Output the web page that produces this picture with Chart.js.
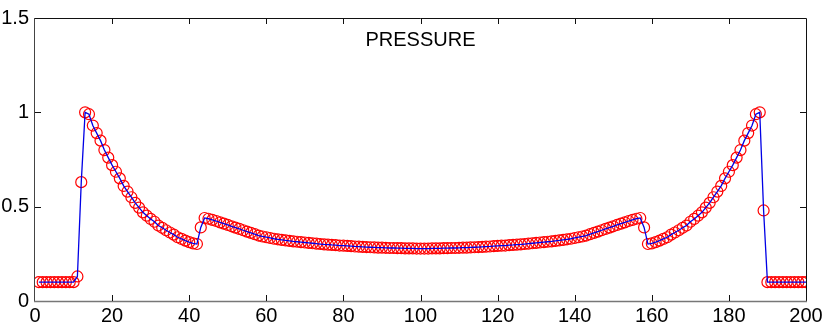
<!DOCTYPE html>
<html>
<head>
<meta charset="utf-8">
<script src="https://cdn.jsdelivr.net/npm/chart.js@4"></script>
<style>
  body { margin: 0; background: #fff; }
  #wrap { width: 830px; height: 328px; }
</style>
</head>
<body>
<div id="wrap"><canvas id="chart"></canvas></div>
<script>
// pressure at grid points 1..200
var pressure = [
  0.1, 0.1, 0.1, 0.1, 0.1, 0.1, 0.1, 0.1, 0.1, 0.1,
  0.13, 0.63, 1.0, 0.99, 0.93, 0.89, 0.85, 0.80, 0.76, 0.72,
  0.685, 0.65, 0.61, 0.58, 0.55, 0.52, 0.495, 0.47, 0.452, 0.435,
  0.42, 0.40, 0.388, 0.375, 0.363, 0.352, 0.338, 0.329, 0.32, 0.312,
  0.305, 0.302, 0.39, 0.44, 0.436, 0.430, 0.424, 0.417, 0.410, 0.403,
  0.396, 0.389, 0.382, 0.375, 0.368, 0.361, 0.354, 0.347, 0.342, 0.338,
  0.334, 0.330, 0.327, 0.324, 0.321, 0.319, 0.316, 0.314, 0.312, 0.310,
  0.308, 0.306, 0.304, 0.302, 0.300, 0.299, 0.297, 0.296, 0.294, 0.293,
  0.292, 0.291, 0.289, 0.288, 0.287, 0.286, 0.285, 0.284, 0.283, 0.283,
  0.282, 0.281, 0.281, 0.280, 0.280, 0.279, 0.279, 0.279, 0.278, 0.278,
  0.278, 0.278, 0.279, 0.279, 0.279, 0.280, 0.280, 0.281, 0.281, 0.282,
  0.283, 0.283, 0.284, 0.285, 0.286, 0.287, 0.288, 0.289, 0.291, 0.292,
  0.293, 0.294, 0.296, 0.297, 0.299, 0.300, 0.302, 0.304, 0.306, 0.308,
  0.310, 0.312, 0.314, 0.316, 0.319, 0.321, 0.324, 0.327, 0.330, 0.334,
  0.338, 0.342, 0.347, 0.354, 0.361, 0.368, 0.375, 0.382, 0.389, 0.396,
  0.403, 0.410, 0.417, 0.424, 0.430, 0.436, 0.44, 0.39, 0.302, 0.305,
  0.312, 0.32, 0.329, 0.338, 0.352, 0.363, 0.375, 0.388, 0.40, 0.42,
  0.435, 0.452, 0.47, 0.495, 0.52, 0.55, 0.58, 0.61, 0.65, 0.685,
  0.72, 0.76, 0.80, 0.85, 0.89, 0.93, 0.99, 1.0, 0.48, 0.1,
  0.1, 0.1, 0.1, 0.1, 0.1, 0.1, 0.1, 0.1, 0.1, 0.1
];

var xTicks = [0, 20, 40, 60, 80, 100, 120, 140, 160, 180, 200];
var yTicks = [0, 0.5, 1, 1.5];
var yTickLabels = ['0', '0.5', '1', '1.5'];
var chartTitle = 'PRESSURE';

var font_family = '"Liberation Sans", Arial, Helvetica, sans-serif';

var points = pressure.map(function (v, i) { return { x: i + 1, y: v }; });

// matlab style box with inward ticks + title inside the axes
var boxPlugin = {
  id: 'box',
  afterDraw: function (chart) {
    var ctx = chart.ctx;
    var a = chart.chartArea;
    var xs = chart.scales.x, ys = chart.scales.y;
    var tl = 6;
    ctx.save();
    ctx.lineWidth = 1;
    // top + right
    ctx.strokeStyle = '#111';
    ctx.beginPath();
    ctx.moveTo(a.left, a.top + 0.5); ctx.lineTo(a.right + 0.5, a.top + 0.5);
    ctx.lineTo(a.right + 0.5, a.bottom);
    ctx.stroke();
    // left
    ctx.strokeStyle = '#444';
    ctx.beginPath();
    ctx.moveTo(a.left - 0.5, a.top); ctx.lineTo(a.left - 0.5, a.bottom + 1);
    ctx.stroke();
    // bottom
    ctx.strokeStyle = '#777';
    ctx.lineWidth = 1.5;
    ctx.beginPath();
    ctx.moveTo(a.left - 1, a.bottom + 0.5); ctx.lineTo(a.right + 1, a.bottom + 0.5);
    ctx.stroke();
    // ticks
    ctx.lineWidth = 1;
    ctx.strokeStyle = '#111';
    ctx.beginPath();
    xTicks.forEach(function (v) {
      if (v === xs.min || v === xs.max) return;
      var px = Math.round(xs.getPixelForValue(v)) + 0.5;
      ctx.moveTo(px, a.bottom); ctx.lineTo(px, a.bottom - tl);
      ctx.moveTo(px, a.top); ctx.lineTo(px, a.top + tl);
    });
    yTicks.forEach(function (v) {
      if (v === ys.min || v === ys.max) return;
      var py = Math.round(ys.getPixelForValue(v)) + 0.5;
      ctx.moveTo(a.left, py); ctx.lineTo(a.left + tl, py);
      ctx.moveTo(a.right, py); ctx.lineTo(a.right - tl, py);
    });
    ctx.stroke();
    // title
    ctx.fillStyle = '#000';
    ctx.font = '20px ' + font_family;
    ctx.textAlign = 'center';
    ctx.textBaseline = 'alphabetic';
    ctx.fillText(chartTitle, (a.left + a.right) / 2, a.top + 28);
    ctx.restore();
  }
};

var ctx = document.getElementById('chart').getContext('2d');
var chart = new Chart(ctx, {
  type: 'line',
  data: {
    datasets: [{
      label: 'line',
      data: points,
      borderColor: '#0000e6',
      borderWidth: 1.3,
      pointRadius: 0,
      fill: false,
      tension: 0,
      order: 0
    }, {
      label: 'circles',
      data: points,
      showLine: false,
      pointStyle: 'circle',
      pointRadius: 5.5,
      pointBorderWidth: 1.2,
      pointBorderColor: '#ff0000',
      pointBackgroundColor: 'rgba(0,0,0,0)',
      order: 1
    }]
  },
  options: {
    responsive: true,
    maintainAspectRatio: false,
    animation: false,
    layout: { padding: { left: 0, top: 18, right: 24, bottom: 0 } },
    plugins: {
      legend: { display: false },
      tooltip: { enabled: false },
      title: { display: false }
    },
    scales: {
      x: {
        type: 'linear',
        min: 0,
        max: 200,
        grid: { display: false, drawTicks: false },
        border: { display: false },
        afterBuildTicks: function (s) { s.ticks = xTicks.map(function (v) { return { value: v }; }); },
        afterFit: function (s) { s.height = 27; },
        ticks: {
          autoSkip: false,
          maxRotation: 0,
          padding: 3,
          color: '#000',
          font: { family: font_family, size: 20 }
        }
      },
      y: {
        min: 0,
        max: 1.5,
        grid: { display: false, drawTicks: false },
        border: { display: false },
        afterBuildTicks: function (s) { s.ticks = yTicks.map(function (v) { return { value: v }; }); },
        afterFit: function (s) { s.width = 35; },
        ticks: {
          padding: 6,
          color: '#000',
          font: { family: font_family, size: 20 },
          callback: function (value, index) { return yTickLabels[index]; }
        }
      }
    }
  },
  plugins: [boxPlugin]
});
</script>
</body>
</html>
